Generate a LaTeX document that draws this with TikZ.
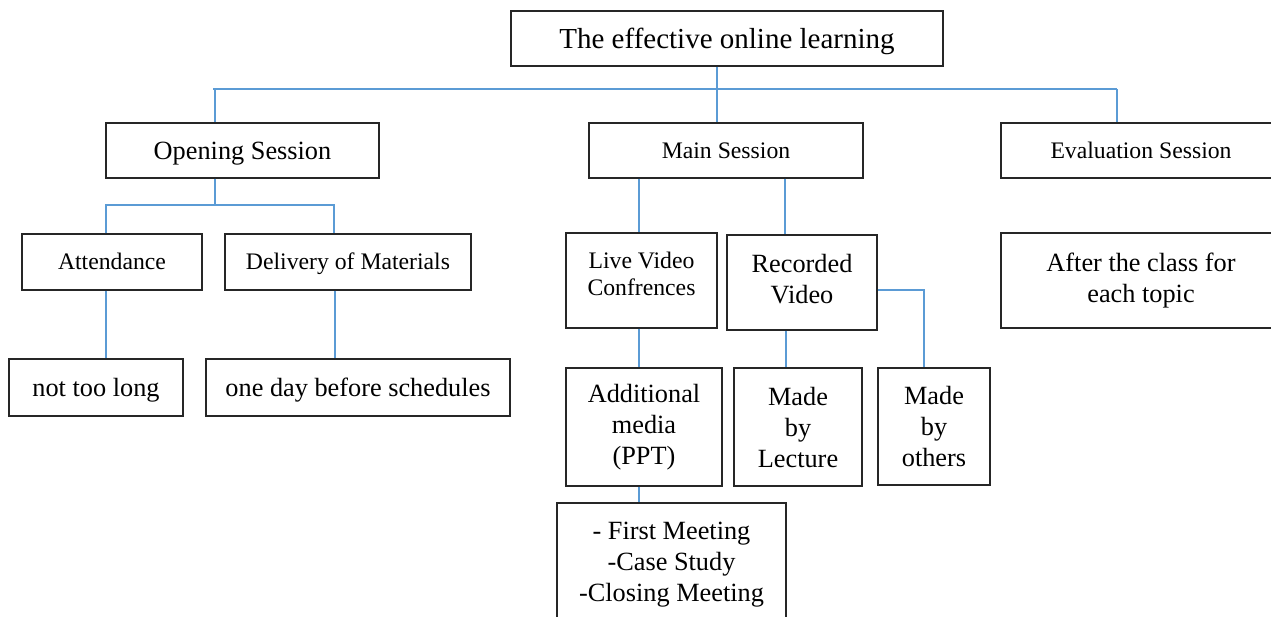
\documentclass[tikz,border=0pt]{standalone}
\usepackage{fontspec}
\setmainfont{Liberation Serif}
\definecolor{lineblue}{HTML}{5B9BD5}
\begin{document}
\begin{tikzpicture}[x=1pt,y=-1pt,
  box/.style={draw=black!85, line width=1.2pt, inner sep=0pt, fill=white},
  multi/.style={align=center},
  bigf/.style={font=\fontsize{26.3}{31}\selectfont},
  smallf/.style={font=\fontsize{23.7}{27}\selectfont},
  topf/.style={font=\fontsize{29}{33}\selectfont},
  onebig/.style={bigf, text height=17.4pt, text depth=0pt},
  onesmall/.style={smallf, text height=15.6pt, text depth=0pt},
  onetop/.style={topf, text height=19.1pt, text depth=0pt},
  conn/.style={draw=lineblue, line width=1.3pt}]
\useasboundingbox (0,0) rectangle (1271,616);
\clip (0,0) rectangle (1271,616);
\fill[white] (0,0) rectangle (1271,616);
% nodes
\node[box, onetop, minimum width=432pt, minimum height=55pt] (top) at (727,38.5) {The effective online learning};
\node[box, onebig, minimum width=273pt, minimum height=55pt] (open) at (242.5,150.5) {Opening Session};
\node[box, onesmall, minimum width=274pt, minimum height=55pt] (main) at (726,150.5) {Main Session};
\node[box, onesmall, minimum width=280pt, minimum height=55pt] (eval) at (1141,150.5) {Evaluation Session};
\node[box, onesmall, minimum width=180pt, minimum height=56pt] (att) at (112,262) {Attendance};
\node[box, onesmall, minimum width=246pt, minimum height=56pt] (deliv) at (348,262) {Delivery of Materials};
\node[box, minimum width=151pt, minimum height=95pt] (live) at (641.5,280.5) {};
\node[smallf, multi, inner sep=0pt] (livetext) at ([yshift=7pt]live.center) {Live Video\\Confrences};
\node[box, minimum width=150pt, minimum height=95pt] (rec) at (802,282.5) {};
\node[bigf, multi, inner sep=0pt] (rectext) at ([yshift=3pt]rec.center) {Recorded\\Video};
\node[box, bigf, multi, minimum width=280pt, minimum height=95pt] (after) at (1141,280.5) {After the class for\\each topic};
\node[box, onebig, minimum width=174pt, minimum height=57pt] (ntl) at (96,387.5) {not too long};
\node[box, onebig, minimum width=304pt, minimum height=57pt] (oneday) at (358,387.5) {one day before schedules};
\node[box, bigf, multi, minimum width=156pt, minimum height=118pt] (addl) at (644,427) {Additional\\media\\(PPT)};
\node[box, bigf, multi, minimum width=128pt, minimum height=118pt] (lect) at (798,427) {Made\\by\\Lecture};
\node[box, bigf, multi, minimum width=112pt, minimum height=117pt] (others) at (934,426.5) {Made\\by\\others};
\node[box, bigf, multi, minimum width=229pt, minimum height=124pt] (meet) at (671.5,565) {- First Meeting\\-Case Study\\-Closing Meeting};
% junction coordinates
\coordinate (busL) at (215,89);
\coordinate (busR) at (1117,89);
\coordinate (oj) at (215,205);
% connectors
\draw[conn] ([xshift=-10pt]top.south) -- ([xshift=-9pt]main.north);
\draw[conn] ([xshift=-2pt]busL) -- (busR);
\draw[conn] (busL) -- (busL |- open.north);
\draw[conn] (busR) -- (busR |- eval.north);
\draw[conn] (open.south -| oj) -- (oj);
\draw[conn] ([xshift=-6pt]att.north) |- (oj) -| ([xshift=-14pt]deliv.north);
\draw[conn] ([xshift=-6pt]att.south) -- ([xshift=-6pt]att.south |- ntl.north);
\draw[conn] ([xshift=-13pt]deliv.south) -- ([xshift=-13pt]deliv.south |- oneday.north);
\draw[conn] ([xshift=-87pt]main.south) -- ([xshift=-87pt]main.south |- live.north);
\draw[conn] ([xshift=59pt]main.south) -- ([xshift=59pt]main.south |- rec.north);
\draw[conn] ([xshift=-2.5pt]live.south) -- ([xshift=-2.5pt]live.south |- addl.north);
\draw[conn] ([xshift=-16pt]rec.south) -- ([xshift=-16pt]rec.south |- lect.north);
\draw[conn] ([yshift=-7.5pt]rec.east) -| ([xshift=-10pt]others.north);
\draw[conn] ([xshift=-5pt]addl.south) -- ([xshift=-5pt]addl.south |- meet.north);
\end{tikzpicture}
\end{document}
